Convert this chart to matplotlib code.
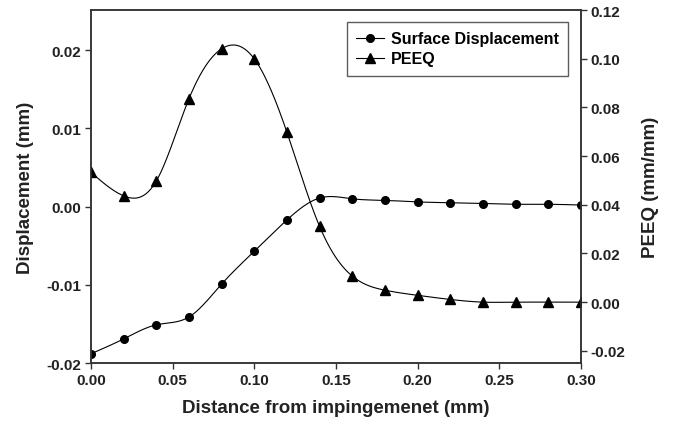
import numpy as np
import matplotlib
matplotlib.use("Agg")
import matplotlib.pyplot as plt

plt.rcParams['font.family'] = ['Liberation Sans', 'DejaVu Sans']
plt.rcParams['font.weight'] = 'bold'

distance = [0.00, 0.02, 0.04, 0.06, 0.08, 0.10, 0.12, 0.14, 0.16, 0.18, 0.20,
            0.22, 0.24, 0.26, 0.28, 0.30]
displacement = [-0.0188, -0.0169, -0.0151, -0.0141, -0.0099, -0.0057, -0.0017,
                0.0011, 0.0010, 0.0008, 0.0006, 0.0005, 0.0004, 0.0003,
                0.0003, 0.0002]
peeq = [0.0534, 0.0437, 0.0497, 0.0835, 0.1041, 0.1000, 0.0698, 0.0311,
        0.0107, 0.0049, 0.0028, 0.0011, 0.0000, 0.0000, 0.0000, 0.0000]


def smooth(x, y, n=400):
    # natural cubic spline through the points, for drawing the line only
    x = np.asarray(x, float)
    y = np.asarray(y, float)
    m = len(x)
    h = np.diff(x)
    A = np.zeros((m, m))
    b = np.zeros(m)
    A[0, 0] = A[-1, -1] = 1
    for i in range(1, m - 1):
        A[i, i - 1] = h[i - 1]
        A[i, i] = 2 * (h[i - 1] + h[i])
        A[i, i + 1] = h[i]
        b[i] = 3 * ((y[i + 1] - y[i]) / h[i] - (y[i] - y[i - 1]) / h[i - 1])
    c = np.linalg.solve(A, b)
    xs = np.linspace(x[0], x[-1], n)
    k = np.clip(np.searchsorted(x, xs) - 1, 0, m - 2)
    dx = xs - x[k]
    bb = (y[k + 1] - y[k]) / h[k] - h[k] * (2 * c[k] + c[k + 1]) / 3
    d = (c[k + 1] - c[k]) / (3 * h[k])
    return xs, y[k] + bb * dx + c[k] * dx ** 2 + d * dx ** 3


edge = '#333333'
fig, ax = plt.subplots(figsize=(6.78, 4.27), dpi=100)
fig.subplots_adjust(left=0.134, right=0.857, top=0.974, bottom=0.147)
ax2 = ax.twinx()

xs, ys = smooth(distance, displacement)
ax.plot(xs, ys, color='black', lw=0.8)
ax.plot(distance, displacement, 'o', color='black', ms=5.5)
l1, = ax.plot([], [], '-o', color='black', lw=0.8, ms=5.5)

xs, ys = smooth(distance, peeq)
ax2.plot(xs, ys, color='black', lw=0.8)
ax2.plot(distance, peeq, '^', color='black', ms=6.5)
l2, = ax2.plot([], [], '-^', color='black', lw=0.8, ms=6.5)

ax.set_xlim(0, 0.30)
ax.set_ylim(-0.02, 0.0251)
ax2.set_ylim(-0.0251, 0.12)
ax.set_xticks(np.arange(0, 0.301, 0.05))
ax.set_yticks([-0.02, -0.01, 0.00, 0.01, 0.02])
ax2.set_yticks([-0.02, 0.00, 0.02, 0.04, 0.06, 0.08, 0.10, 0.12])
ax.xaxis.set_major_formatter(plt.FuncFormatter(lambda v, p: f"{v:.2f}"))
ax.yaxis.set_major_formatter(plt.FuncFormatter(lambda v, p: f"{v:.2f}"))
ax2.yaxis.set_major_formatter(plt.FuncFormatter(lambda v, p: f"{v:.2f}"))

for a in (ax, ax2):
    for s in a.spines.values():
        s.set_color(edge)
        s.set_linewidth(1.1)
    a.tick_params(colors=edge, labelcolor='#222222', labelsize=11,
                  direction='out', length=4, width=1.0, pad=3)

ax.set_xlabel('Distance from impingemenet (mm)', fontsize=13.5,
              fontweight='bold', color='#222222', labelpad=9)
ax.set_ylabel('Displacement (mm)', fontsize=13.5, fontweight='bold',
              color='#222222', labelpad=9)
ax2.set_ylabel('PEEQ (mm/mm)', fontsize=13.5, fontweight='bold',
               color='#222222', labelpad=12)

leg = ax2.legend([l1, l2], ['Surface Displacement', 'PEEQ'], loc='upper right',
                 bbox_to_anchor=(0.9735, 0.967), fontsize=11.5, frameon=True,
                 fancybox=False, handlelength=1.75, handletextpad=0.4,
                 borderpad=0.6, labelspacing=0.3, borderaxespad=0)
leg.get_frame().set_edgecolor(edge)
leg.get_frame().set_linewidth(1.0)

fig.savefig('out.png', dpi=100)
